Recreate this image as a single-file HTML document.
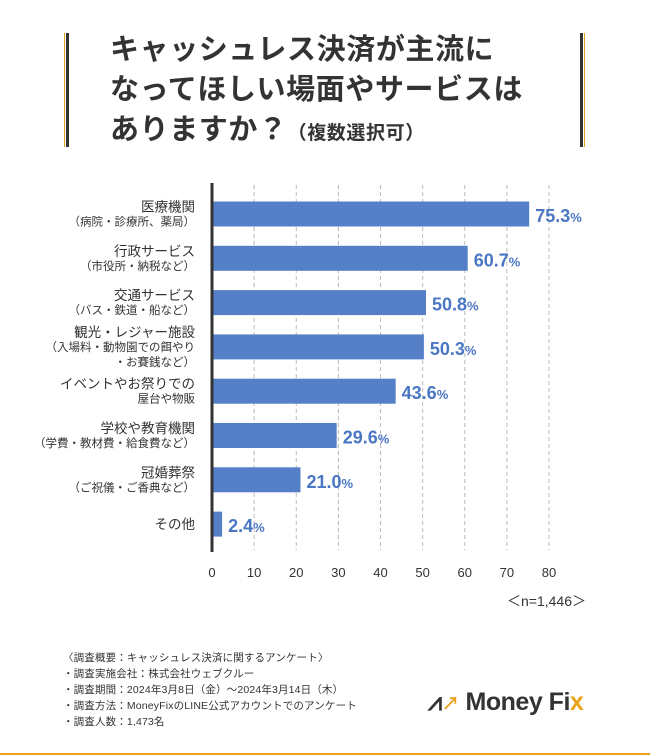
<!DOCTYPE html>
<html><head><meta charset="utf-8"><style>
body{margin:0;width:650px;height:755px;background:#fff;position:relative;overflow:hidden;font-family:"Liberation Sans","Noto Sans CJK JP",sans-serif;color:#333}
.t{position:absolute;left:110px;font-weight:bold;font-size:29px;line-height:40px;color:#333;top:30px;letter-spacing:0.6px}
.vb{position:absolute;top:33px;height:114px;width:3px;background:#333}
.vo{position:absolute;top:33px;height:114px;width:1px;background:#e8a21c}
.foot{position:absolute;left:63px;top:650px;font-size:10.5px;line-height:16px;color:#333;letter-spacing:0.15px}
</style></head><body>
<div class="vo" style="left:64px"></div>
<div class="vb" style="left:66px"></div>
<div class="vb" style="left:580px"></div>
<div class="vo" style="left:584px"></div>
<div class="t">キャッシュレス決済が主流に<br>なってほしい場面やサービスは<br>ありますか？<span style="font-size:19px">（複数選択可）</span></div>
<svg id="c" width="650" height="620" style="position:absolute;left:0;top:0"></svg>
<div class="foot">〈調査概要：キャッシュレス決済に関するアンケート〉<br>・調査実施会社：株式会社ウェブクルー<br>・調査期間：2024年3月8日（金）～2024年3月14日（木）<br>・調査方法：MoneyFixのLINE公式アカウントでのアンケート<br>・調査人数：1,473名</div>
<div style="position:absolute;left:428px;top:688px;font-size:25px;font-weight:bold;color:#333;letter-spacing:-0.5px"><span style="color:#333">⩘</span><span style="color:#e8a21c;font-size:18px">↗</span> Money Fi<span style="color:#e8a21c">x</span></div>
<div style="position:absolute;left:0;top:753px;width:650px;height:2px;background:#f0a020"></div>
<script>
const categories=[["医療機関","（病院・診療所、薬局）"],["行政サービス","（市役所・納税など）"],["交通サービス","（バス・鉄道・船など）"],["観光・レジャー施設","（入場料・動物園での餌やり","・お賽銭など）"],["イベントやお祭りでの","屋台や物販"],["学校や教育機関","（学費・教材費・給食費など）"],["冠婚葬祭","（ご祝儀・ご香典など）"],["その他"]];
const values=[75.3,60.7,50.8,50.3,43.6,29.6,21.0,2.4];
const ticks=[0,10,20,30,40,50,60,70,80];
const svg=document.getElementById('c');const NS='http://www.w3.org/2000/svg';
const x=v=>212+v*337/80;const y=i=>214+i*44.3;
function mk(t,a){const e=document.createElementNS(NS,t);for(const k in a)e.setAttribute(k,a[k]);svg.appendChild(e);return e;}
ticks.forEach(t=>{if(t>0){const l=mk('line',{x1:x(t),x2:x(t),y1:185,y2:550,stroke:'#bbb','stroke-dasharray':'4,3'});

}
const tx=mk('text',{x:x(t),y:577,'text-anchor':'middle','font-size':13,fill:'#333'});tx.textContent=t;

});
values.forEach((v,i)=>{const r=mk('rect',{x:212,y:y(i)-12.5,width:x(v)-212,height:25,fill:'#5580c8'});


const t=mk('text',{x:x(v)+6,y:y(i)+8,'font-size':18,'font-weight':'bold',fill:'#4a76c4'});t.innerHTML=v.toFixed(1)+'<tspan font-size="13">%</tspan>';


const L=categories[i];const n=L.length;L.forEach((s,j)=>{const tt=mk('text',{x:195,y:y(i)+(j-(n-1)/2)*15+(j==0?5:4),'text-anchor':'end','font-size':j==0?13.5:11.5,fill:'#333'});tt.textContent=s;

});});
const ax=mk('line',{x1:212,x2:212,y1:183,y2:552,stroke:'#333','stroke-width':3});


const nn=mk('text',{x:586,y:606,'text-anchor':'end','font-size':14,fill:'#333'});nn.textContent='＜n=1,446＞';


</script>
</body></html>
